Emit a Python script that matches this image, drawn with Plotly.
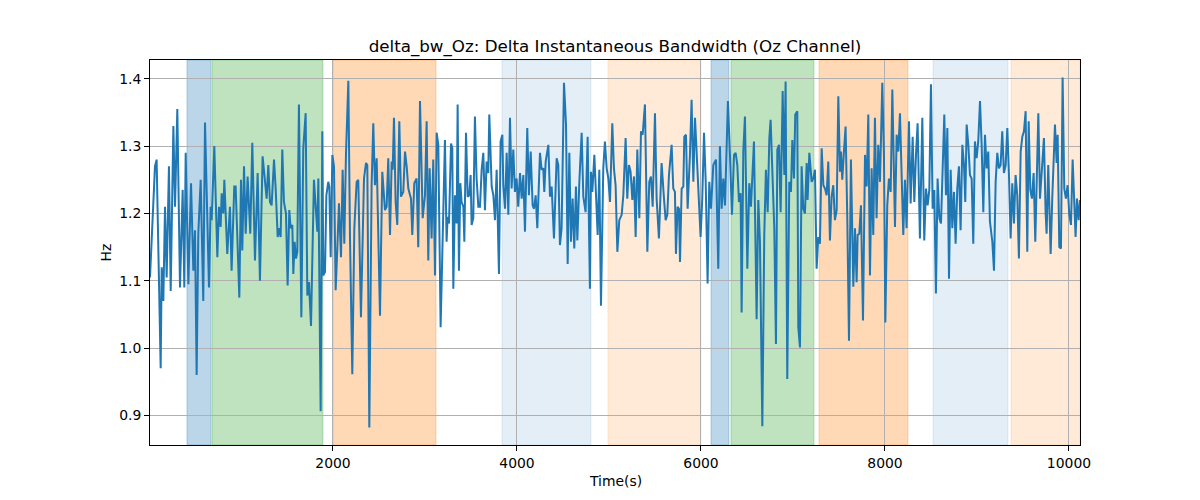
import plotly.graph_objects as go

# ---------------- data ----------------
seg1_t = [11,65,83,127,138,156,174,192,217,236,265,283,308,337,366,384,399,428,457,482,500,518,536,562,590,609,652,670,681,710,743,761,779,790,808,819,851,880,898,927,942,982,1000,1014,1033,1051,1072,1101,1123,1152,1181,1206,1235,1254]
seg1_v = [1.105,1.27,1.28,0.97,1.12,1.07,1.21,1.105,1.27,1.085,1.33,1.21,1.355,1.09,1.235,1.09,1.29,1.095,1.245,1.115,1.175,0.96,1.17,1.25,1.07,1.335,1.09,1.21,1.19,1.30,1.135,1.21,1.18,1.23,1.20,1.25,1.14,1.21,1.115,1.24,1.24,1.075,1.25,1.145,1.27,1.17,1.255,1.17,1.305,1.13,1.26,1.10,1.285,1.26]

seg2_t = [1279,1297,1315,1333,1359,1377,1399,1413,1431,1449,1467,1489,1507,1525,1540,1558,1569,1583,1598,1612,1630,1656,1677,1703,1721,1739,1761,1793,1812,1830,1841,1866,1884,1895,1913,1928,1949,1960,1975,1993,2011,2029,2047,2065,2087,2105,2123,2141,2167,2185,2210,2232,2257,2275,2304,2337,2359,2373,2395,2420,2438,2456,2475,2493]
seg2_v = [1.222,1.272,1.217,1.212,1.28,1.237,1.165,1.178,1.165,1.295,1.217,1.20,1.093,1.205,1.178,1.183,1.11,1.158,1.133,1.143,1.362,1.046,1.297,1.349,1.078,1.098,1.033,1.25,1.202,1.173,1.252,0.906,1.322,1.108,1.113,1.227,1.247,1.24,1.135,1.287,1.27,1.086,1.148,1.215,1.135,1.265,1.155,1.287,1.397,1.163,0.961,1.178,1.247,1.25,1.046,1.252,1.275,1.272,0.882,1.242,1.334,1.242,1.282,1.175]

seg3_t = [2511,2536,2565,2583,2601,2620,2638,2649,2663,2681,2699,2721,2739,2764,2783,2801,2819,2848,2862,2884,2909,2927,2946,2975,3000,3018,3036,3051,3072,3090,3109,3127,3145,3170,3192,3217,3235,3246,3261,3283,3297,3308,3326,3344,3355,3369,3384,3398,3417,3428,3446,3464,3482,3496,3507,3525,3543,3561,3580,3598,3616,3634,3652,3670,3688,3699,3725,3743,3761]
seg3_v = [1.048,1.262,1.205,1.21,1.282,1.168,1.277,1.265,1.342,1.217,1.183,1.337,1.225,1.232,1.292,1.27,1.237,1.222,1.168,1.245,1.252,1.15,1.367,1.193,1.227,1.337,1.13,1.267,1.163,1.28,1.108,1.32,1.302,1.031,1.173,1.309,1.158,1.195,1.185,1.304,1.297,1.088,1.227,1.185,1.362,1.115,1.245,1.217,1.21,1.158,1.32,1.225,1.227,1.257,1.183,1.193,1.344,1.252,1.21,1.21,1.265,1.29,1.205,1.277,1.26,1.347,1.24,1.227,1.19]

seg4_t = [3779,3804,3822,3841,3851,3870,3888,3906,3924,3942,3960,3978,3996,4014,4033,4051,4069,4087,4112,4130,4149,4170,4185,4203,4221,4250,4268,4286,4297,4312,4341,4359,4377,4402,4431,4449,4467,4485,4511,4533,4551,4569,4587,4605,4623,4641,4656,4678,4703,4721,4746,4768,4793,4804,4819,4841,4859,4877,4895,4913,4938,4956,4975,4993,5011]
seg4_v = [1.265,1.11,1.307,1.317,1.242,1.207,1.29,1.198,1.342,1.237,1.295,1.232,1.252,1.21,1.26,1.222,1.257,1.173,1.327,1.227,1.292,1.212,1.207,1.227,1.178,1.29,1.265,1.267,1.232,1.277,1.302,1.225,1.24,1.163,1.282,1.272,1.153,1.178,1.394,1.332,1.125,1.29,1.158,1.222,1.148,1.24,1.16,1.247,1.32,1.225,1.202,1.314,1.088,1.262,1.232,1.287,1.227,1.168,1.265,1.063,1.267,1.307,1.267,1.252,1.217]

seg5_t = [5036,5054,5072,5091,5112,5138,5156,5181,5199,5217,5235,5254,5272,5290,5308,5330,5348,5366,5391,5417,5438,5456,5475,5500,5518,5543,5572,5598,5616,5634,5652,5681,5699,5717,5728,5746,5761,5772,5790,5808,5819,5837,5855,5880,5898,5917,5935,5953,5978,5996,6014,6033,6051,6072,6090,6109,6134,6163,6188,6206,6225,6243,6261]
seg5_v = [1.334,1.267,1.242,1.143,1.19,1.198,1.227,1.312,1.222,1.272,1.262,1.22,1.255,1.165,1.295,1.193,1.322,1.317,1.362,1.143,1.247,1.255,1.21,1.349,1.222,1.163,1.275,1.222,1.19,1.198,1.257,1.302,1.237,1.232,1.14,1.21,1.207,1.128,1.237,1.24,1.314,1.317,1.207,1.287,1.369,1.247,1.342,1.29,1.227,1.165,1.222,1.32,1.25,1.096,1.247,1.207,1.272,1.28,1.118,1.30,1.207,1.252,1.212]

seg6_t = [6293,6315,6337,6359,6377,6395,6413,6431,6442,6460,6478,6504,6525,6543,6558,6576,6605,6623,6641,6667,6688,6706,6725,6743,6757,6779,6797,6815,6830,6848,6866,6888,6906,6920,6938,6960,6978,6993,7011,7025,7047,7058,7076,7094,7112,7130,7149,7159,7178,7203,7221,7239,7257,7275,7293,7312,7330,7348,7366,7384,7402,7420,7438,7456,7475,7493,7511]
seg6_v = [1.367,1.287,1.198,1.287,1.29,1.272,1.217,1.23,1.053,1.292,1.344,1.118,1.245,1.21,1.25,1.307,1.043,1.22,1.158,0.884,1.168,1.265,1.202,1.312,1.339,1.265,1.178,1.006,1.295,1.302,1.202,1.382,1.257,1.396,0.954,1.247,1.232,1.309,1.252,1.347,1.352,1.031,1.001,1.27,1.207,1.20,1.275,1.22,1.29,1.247,1.252,1.265,1.118,1.165,1.155,1.297,1.242,1.237,1.227,1.277,1.16,1.225,1.242,1.19,1.205,1.374,1.262]

seg7_t = [7522,7536,7554,7572,7591,7609,7630,7656,7674,7692,7703,7721,7739,7761,7783,7801,7819,7837,7855,7873,7891,7909,7927,7946,7971,7989,8004,8025,8043,8062,8080,8109,8127,8145,8163,8199,8217,8235,8261,8279,8301,8319,8337,8355,8380,8406,8427,8446,8464,8482,8500,8518,8536,8554,8572,8591,8609,8623,8645,8663,8678,8696,8714,8732,8750]
seg7_v = [1.292,1.25,1.292,1.329,1.188,1.011,1.28,1.091,1.178,1.098,1.168,1.17,1.212,1.041,1.287,1.24,1.347,1.108,1.267,1.168,1.342,1.193,1.302,1.247,1.394,1.287,1.038,1.212,1.252,1.232,1.384,1.18,1.317,1.292,1.349,1.168,1.25,1.178,1.337,1.215,1.314,1.217,1.287,1.334,1.163,1.342,1.16,1.237,1.212,1.235,1.392,1.207,1.235,1.081,1.252,1.193,1.185,1.265,1.347,1.227,1.327,1.103,1.265,1.178,1.232]

seg8_t = [8768,8786,8804,8822,8841,8859,8873,8888,8906,8924,8942,8960,8978,8996,9014,9033,9051,9069,9087,9105,9123,9141,9167,9185,9203,9221,9239,9257,9275,9293,9312,9330,9348,9366,9384,9402,9420,9438,9456,9475,9493,9511,9529,9547,9562,9580,9598,9616,9634,9649,9667,9685,9703,9728,9746,9757,9775,9801,9819,9830,9848,9866,9877,9895,9913,9931,9949,9967,9985,10004,10022,10040,10054,10072,10087,10105,10120]
seg8_v = [1.155,1.237,1.27,1.175,1.302,1.272,1.217,1.332,1.302,1.257,1.252,1.155,1.307,1.282,1.307,1.367,1.302,1.202,1.317,1.267,1.292,1.188,1.158,1.115,1.247,1.29,1.267,1.272,1.322,1.26,1.272,1.327,1.257,1.163,1.245,1.185,1.257,1.227,1.133,1.292,1.314,1.322,1.352,1.143,1.337,1.235,1.222,1.26,1.158,1.265,1.349,1.222,1.255,1.312,1.202,1.17,1.272,1.14,1.225,1.267,1.332,1.275,1.317,1.15,1.148,1.402,1.237,1.222,1.242,1.198,1.183,1.28,1.227,1.165,1.222,1.19,1.22]

# shaded intervals (seconds)
band_starts = [413, 685, 2000, 3837, 4989, 6109, 6326, 7283, 8522, 9370]
band_ends   = [674, 1891, 3120, 4804, 6000, 6304, 7228, 8250, 9337, 10120]
band_colors = ["rgba(31,119,180,0.30)", "rgba(44,160,44,0.30)", "rgba(255,127,14,0.30)",
               "rgba(31,119,180,0.12)", "rgba(255,127,14,0.16)",
               "rgba(31,119,180,0.30)", "rgba(44,160,44,0.30)", "rgba(255,127,14,0.30)",
               "rgba(31,119,180,0.12)", "rgba(255,127,14,0.16)"]

x_ticks = [2000, 4000, 6000, 8000, 10000]
y_ticks = [0.9, 1.0, 1.1, 1.2, 1.3, 1.4]

# ---------------- assemble ----------------
segs_t = [seg1_t, seg2_t, seg3_t, seg4_t, seg5_t, seg6_t, seg7_t, seg8_t]
segs_v = [seg1_v, seg2_v, seg3_v, seg4_v, seg5_v, seg6_v, seg7_v, seg8_v]
time_s, delta_bw = [], []
for i, (a, b) in enumerate(zip(segs_t, segs_v)):
    if len(a) != len(b):
        raise ValueError(f"segment {i+1}: {len(a)} times vs {len(b)} values")
    time_s += a
    delta_bw += b

fig = go.Figure()
fig.add_trace(go.Scatter(x=time_s, y=delta_bw, mode="lines",
                         line=dict(color="#1f77b4", width=2), showlegend=False))

for s, e, c in zip(band_starts, band_ends, band_colors):
    fig.add_shape(type="rect", xref="x", yref="paper", x0=s, x1=e, y0=0, y1=1,
                  fillcolor=c, line=dict(color=c, width=1), layer="below")

font = "DejaVu Sans, Arial, sans-serif"
fig.update_layout(
    width=1200, height=500,
    margin=dict(l=142, r=128, t=52, b=63),
    paper_bgcolor="white", plot_bgcolor="white",
    font=dict(family=font, color="black", size=13.9),
    title=dict(text="delta_bw_Oz: Delta Instantaneous Bandwidth (Oz Channel)",
               x=0.5, xref="paper", xanchor="center",
               y=1 - 38 / 500, yref="container", yanchor="middle",
               font=dict(family=font, size=16.7, color="black")),
    xaxis=dict(range=[11, 10120], tickvals=x_ticks, ticktext=[str(v) for v in x_ticks],
               showgrid=True, gridcolor="#b0b0b0", gridwidth=1,
               showline=True, mirror=True, linecolor="black", linewidth=1,
               ticks="outside", ticklen=5, tickcolor="black", zeroline=False),
    yaxis=dict(range=[0.856, 1.428], tickvals=y_ticks, ticktext=[f"{v:.1f}" for v in y_ticks],
               showgrid=True, gridcolor="#b0b0b0", gridwidth=1,
               showline=True, mirror=True, linecolor="black", linewidth=1,
               ticks="outside", ticklen=5, tickcolor="black", zeroline=False),
    annotations=[
        dict(text="Time(s)", xref="paper", yref="paper", x=0.5, y=-(481 - 445) / 385,
             xanchor="center", yanchor="middle", showarrow=False,
             font=dict(family=font, size=13.9, color="black")),
        dict(text="Hz", xref="paper", yref="paper", x=(105 - 150) / 930, y=0.5,
             xanchor="center", yanchor="middle", showarrow=False, textangle=-90,
             font=dict(family=font, size=13.9, color="black")),
    ],
)

fig.write_html("out.html")
